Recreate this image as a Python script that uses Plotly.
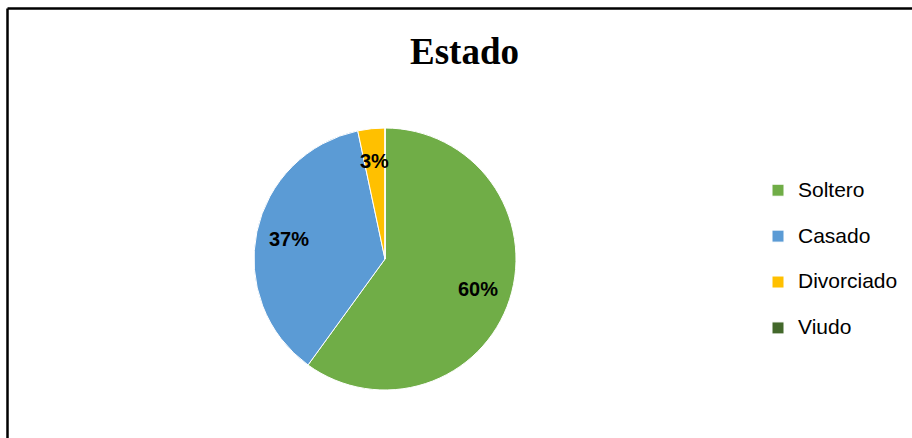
import math
import plotly.graph_objects as go

categories = ["Soltero", "Casado", "Divorciado", "Viudo"]
values = [18, 11, 1, 0]
colors = ["#70AD47", "#5B9BD5", "#FFC000", "#43682B"]
title_text = "Estado"

W, H = 912, 438

# pie geometry (pixels)
CX, CY, R = 385, 259, 131
LABEL_R = 0.75

# legend labels: second blank line to get Excel-like row spacing
legend_labels = [f"<span style='font-size:21px'>{c}</span><br> " for c in categories]

fig = go.Figure(go.Pie(
    labels=legend_labels,
    values=values,
    sort=False,
    direction="clockwise",
    rotation=0,
    marker=dict(colors=colors, line=dict(color="white", width=1)),
    textinfo="none",
    hoverinfo="skip",
    domain=dict(x=[(CX - R) / W, (CX + R) / W], y=[(H - CY - R) / H, (H - CY + R) / H]),
    showlegend=True,
))

# percentage labels placed along each slice bisector (computed from the data)
total = sum(values)
annotations = []
cum = 0
for v in values:
    if v > 0:
        theta = 2 * math.pi * (cum + v / 2) / total
        px = CX + LABEL_R * R * math.sin(theta)
        py = CY - LABEL_R * R * math.cos(theta)
        annotations.append(dict(
            text=f"<b>{round(100 * v / total)}%</b>",
            x=px / W, y=1 - py / H, xref="paper", yref="paper",
            xanchor="center", yanchor="middle", showarrow=False,
            font=dict(family="Liberation Sans", size=20, color="black"),
        ))
    cum += v

annotations.append(dict(
    text=f"<b>{title_text}</b>",
    x=465 / W, y=1 - 51 / H, xref="paper", yref="paper",
    xanchor="center", yanchor="middle", showarrow=False,
    font=dict(family="Liberation Serif", size=37, color="black"),
))

fig.update_layout(
    width=W, height=H,
    margin=dict(l=0, r=0, t=0, b=0),
    paper_bgcolor="white",
    plot_bgcolor="white",
    legend=dict(
        x=758 / W, xanchor="left",
        y=1 - 173 / H, yanchor="top",
        font=dict(family="Liberation Sans", size=16.5, color="black"),
        valign="top",
        itemwidth=30,
        bgcolor="rgba(0,0,0,0)",
    ),
    annotations=annotations,
    shapes=[
        dict(type="line", xref="paper", yref="paper",
             x0=7.5 / W, x1=1.01, y0=1 - 8.5 / H, y1=1 - 8.5 / H,
             line=dict(color="black", width=2.5)),
        dict(type="line", xref="paper", yref="paper",
             x0=7.5 / W, x1=7.5 / W, y0=1 - 8.5 / H, y1=-0.01,
             line=dict(color="black", width=2.5)),
    ],
)

fig.write_html("out.html", config={"displayModeBar": False},
               post_script="document.body.style.margin='0';")
